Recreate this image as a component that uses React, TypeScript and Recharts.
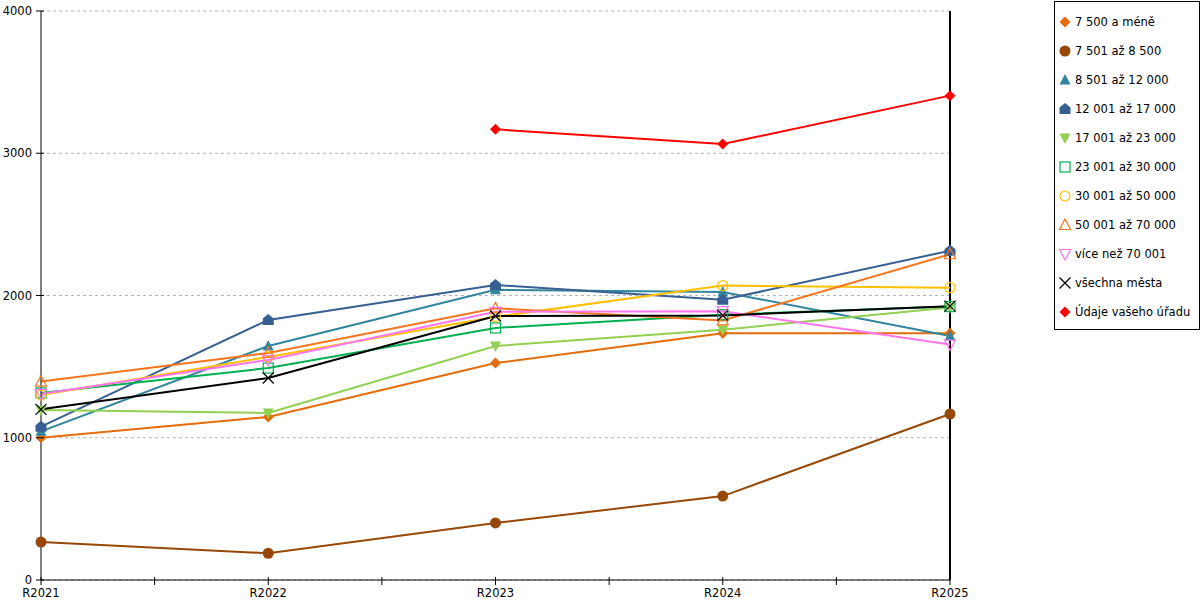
import { CartesianGrid, Legend, Line, LineChart, ReferenceLine, XAxis, YAxis } from "recharts";

const categories = ["R2021", "R2022", "R2023", "R2024", "R2025"];

const do7500 = [1000, 1146, 1525, 1735, 1735];
const od7501 = [267, 188, 401, 590, 1167];
const od8501 = [1045, 1645, 2040, 2025, 1715];
const od12001 = [1078, 1828, 2074, 1970, 2315];
const od17001 = [1195, 1174, 1645, 1760, 1915];
const od23001 = [1315, 1490, 1772, 1865, 1922];
const od30001 = [1300, 1568, 1850, 2070, 2055];
const od50001 = [1395, 1596, 1910, 1825, 2290];
const nad70001 = [1308, 1547, 1885, 1890, 1655];
const vsechna = [1200, 1420, 1856, 1860, 1925];
const urad = [null, null, 3168, 3065, 3405];

const yTicks = [0, 1000, 2000, 3000, 4000];

type Shape =
	| "diamond"
	| "circle"
	| "triangle"
	| "house"
	| "triangleDown"
	| "square"
	| "ring"
	| "triangleOpen"
	| "triangleDownOpen"
	| "cross";

type Series = { key: string; name: string; color: string; shape: Shape; values: Array<number | null> };

const series: Series[] = [
	{ key: "s1", name: "7 500 a méně", color: "#e46c0a", shape: "diamond", values: do7500 },
	{ key: "s2", name: "7 501 až 8 500", color: "#974806", shape: "circle", values: od7501 },
	{ key: "s3", name: "8 501 až 12 000", color: "#31859c", shape: "triangle", values: od8501 },
	{ key: "s4", name: "12 001 až 17 000", color: "#376092", shape: "house", values: od12001 },
	{ key: "s5", name: "17 001 až 23 000", color: "#92d050", shape: "triangleDown", values: od17001 },
	{ key: "s6", name: "23 001 až 30 000", color: "#00b050", shape: "square", values: od23001 },
	{ key: "s7", name: "30 001 až 50 000", color: "#ffc000", shape: "ring", values: od30001 },
	{ key: "s8", name: "50 001 až 70 000", color: "#f7751c", shape: "triangleOpen", values: od50001 },
	{ key: "s9", name: "více než 70 001", color: "#ff77ee", shape: "triangleDownOpen", values: nad70001 },
	{ key: "s10", name: "všechna města", color: "#000000", shape: "cross", values: vsechna },
	{ key: "s11", name: "Údaje vašeho úřadu", color: "#ff0000", shape: "diamond", values: urad },
];

const data = categories.map((cat, i) => {
	const row: Record<string, string | number | null> = { cat };
	series.forEach((s) => (row[s.key] = s.values[i]));
	return row;
});

const CHART_W = 1200;
const CHART_H = 600;
const Y_AXIS_W = 41;
const MARGIN = { top: 11, right: 250, bottom: 0, left: 0 };
const PLOT_W = CHART_W - MARGIN.right - MARGIN.left - Y_AXIS_W;
const STEP = PLOT_W / (categories.length - 1);
const FONT = "'DejaVu Sans', sans-serif";
const FONT_SIZE = 11.5;

function Marker({ shape, cx, cy, color }: { shape: Shape; cx: number; cy: number; color: string }) {
	const p = (pts: number[][]) => pts.map(([x, y]) => `${cx + x},${cy + y}`).join(" ");
	switch (shape) {
		case "diamond":
			return <polygon points={p([[0, -5.5], [5.5, 0], [0, 5.5], [-5.5, 0]])} fill={color} />;
		case "circle":
			return <circle cx={cx} cy={cy} r={5.5} fill={color} />;
		case "triangle":
			return <polygon points={p([[0, -6], [5.5, 4.5], [-5.5, 4.5]])} fill={color} />;
		case "house":
			return <polygon points={p([[0, -6], [5.5, -1.5], [5.5, 5], [-5.5, 5], [-5.5, -1.5]])} fill={color} />;
		case "triangleDown":
			return <polygon points={p([[-5.5, -4.5], [5.5, -4.5], [0, 6]])} fill={color} />;
		case "square":
			return <rect x={cx - 5} y={cy - 5} width={10} height={10} fill="none" stroke={color} strokeWidth={1.2} />;
		case "ring":
			return <circle cx={cx} cy={cy} r={5} fill="none" stroke={color} strokeWidth={1.2} />;
		case "triangleOpen":
			return <polygon points={p([[0, -6], [5.5, 4.5], [-5.5, 4.5]])} fill="none" stroke={color} strokeWidth={1.2} />;
		case "triangleDownOpen":
			return <polygon points={p([[-5.5, -4.5], [5.5, -4.5], [0, 6]])} fill="none" stroke={color} strokeWidth={1.2} />;
		case "cross":
			return (
				<g stroke={color} strokeWidth={1.2}>
					<line x1={cx - 5.5} y1={cy - 5.5} x2={cx + 5.5} y2={cy + 5.5} />
					<line x1={cx - 5.5} y1={cy + 5.5} x2={cx + 5.5} y2={cy - 5.5} />
				</g>
			);
	}
}

function XTick({ x, y, payload, index }: any) {
	const last = index === categories.length - 1;
	return (
		<g>
			<line x1={x} y1={y - 3} x2={x} y2={y + 5} stroke="#000" />
			{!last && <line x1={x + STEP / 2} y1={y - 3} x2={x + STEP / 2} y2={y + 5} stroke="#000" />}
			<text x={x} y={y + 17} textAnchor="middle" fontSize={FONT_SIZE} fontFamily={FONT} fill="#000">
				{payload.value}
			</text>
		</g>
	);
}

function YTick({ x, y, payload }: any) {
	return (
		<g>
			<line x1={x - 5} y1={y} x2={x + 3} y2={y} stroke="#000" />
			<text x={x - 9} y={y + 4} textAnchor="end" fontSize={FONT_SIZE} fontFamily={FONT} fill="#000">
				{payload.value}
			</text>
		</g>
	);
}

function LegendBox() {
	return (
		<div
			style={{
				border: "1px solid #000",
				background: "#fff",
				boxSizing: "border-box",
				width: 146,
				height: 329,
				padding: "5px 0 0 0",
				fontFamily: FONT,
				fontSize: FONT_SIZE,
				color: "#000",
			}}
		>
			{series.map((s) => (
				<div key={s.key} style={{ height: 29, display: "flex", alignItems: "center", whiteSpace: "nowrap" }}>
					<svg width={19} height={14} style={{ marginLeft: 1, flex: "none" }}>
						<Marker shape={s.shape} cx={9} cy={7} color={s.color} />
					</svg>
					<span>{s.name}</span>
				</div>
			))}
		</div>
	);
}

export default function App() {
	return (
		<div style={{ position: "absolute", left: 0, top: 0, width: CHART_W, height: CHART_H, background: "#fff" }}>
			<LineChart width={CHART_W} height={CHART_H} data={data} margin={MARGIN}>
				<CartesianGrid vertical={false} stroke="#b3b3b3" strokeDasharray="3 3" />
				<XAxis
					dataKey="cat"
					height={20}
					interval={0}
					axisLine={{ stroke: "#000" }}
					tickLine={false}
					tickSize={0}
					tickMargin={0}
					tick={<XTick />}
				/>
				<YAxis
					width={Y_AXIS_W}
					domain={[0, 4000]}
					ticks={yTicks}
					interval={0}
					axisLine={{ stroke: "#000" }}
					tickLine={false}
					tickSize={0}
					tickMargin={0}
					tick={<YTick />}
				/>
				<ReferenceLine x="R2025" stroke="#000" strokeWidth={2} />
				{series.map((s) => (
					<Line
						key={s.key}
						dataKey={s.key}
						name={s.name}
						type="linear"
						stroke={s.color}
						strokeWidth={2}
						isAnimationActive={false}
						activeDot={false}
						dot={(d: any) =>
							d.cx == null || d.cy == null || d.value == null ? (
								<g key={`${s.key}-${d.index}`} />
							) : (
								<g key={`${s.key}-${d.index}`}>
									<Marker shape={s.shape} cx={d.cx} cy={d.cy} color={s.color} />
								</g>
							)
						}
					/>
				))}
				<Legend
					layout="vertical"
					align="center"
					verticalAlign="middle"
					content={<LegendBox />}
					wrapperStyle={{ left: 1054, top: 1, width: 146, height: 329 }}
				/>
			</LineChart>
		</div>
	);
}
